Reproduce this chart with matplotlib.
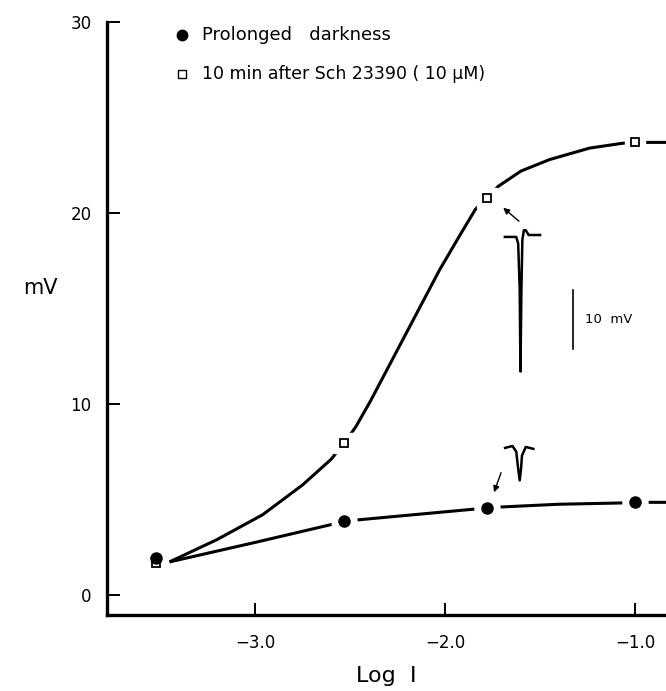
import numpy as np
import matplotlib
matplotlib.use('Agg')
import matplotlib.pyplot as plt

plt.rcParams['font.family'] = ['DejaVu Sans']

# measured points
log_i = [-3.52, -2.53, -1.78, -1.0]
dark_mv = [1.95, 3.87, 4.55, 4.85]
sch_mv = [1.65, 7.96, 20.8, 23.7]

# hand drawn curves
dark_curve_x = [-3.45, -3.0, -2.61, -2.53, -2.46, -2.2, -1.84, -1.78, -1.72,
                -1.4, -1.06, -1.0, -0.8]
dark_curve_y = [1.73, 2.75, 3.66, 3.87, 3.93, 4.17, 4.5, 4.55, 4.6,
                4.75, 4.82, 4.85, 4.85]
sch_curve_x = [-3.45, -3.2, -2.96, -2.75, -2.6, -2.53, -2.47, -2.39, -2.21,
               -2.03, -1.93, -1.84, -1.78, -1.72, -1.6, -1.45, -1.24, -1.07,
               -1.0, -0.8]
sch_curve_y = [1.73, 2.9, 4.2, 5.76, 7.1, 7.96, 8.8, 10.2, 13.6,
               17.0, 18.7, 20.2, 20.8, 21.4, 22.2, 22.8, 23.4, 23.65,
               23.7, 23.7]

# inset response traces
trace_big_x = [-1.685, -1.625, -1.615, -1.607, -1.603, -1.598, -1.593,
               -1.585, -1.575, -1.56, -1.50]
trace_big_y = [18.75, 18.75, 18.4, 16.0, 11.7, 16.0, 18.6,
               19.1, 19.1, 18.85, 18.85]
trace_small_x = [-1.684, -1.645, -1.625, -1.615, -1.607, -1.600, -1.595,
                 -1.575, -1.535]
trace_small_y = [7.7, 7.8, 7.5, 6.6, 6.0, 6.6, 7.3, 7.75, 7.65]

fig = plt.figure(figsize=(6.66, 6.91), dpi=100)
ax = fig.add_axes([0.1607, 0.11, 0.8393, 0.858])

kw = {'color': 'black', 'lw': 2.2, 'solid_capstyle': 'butt', 'zorder': 2}
ax.plot(dark_curve_x, dark_curve_y, **kw)
ax.plot(sch_curve_x, sch_curve_y, **kw)

# white halos give the gaps around the symbols
ax.plot(log_i[1:], dark_mv[1:], 'o', ms=18, color='white', zorder=3)
ax.plot(log_i[1:], sch_mv[1:], 's', ms=15, color='white', zorder=3)
ax.plot(log_i, dark_mv, 'o', ms=8, color='black', zorder=5)
ax.plot(log_i, sch_mv, 's', ms=6, mfc='white', mec='black', mew=1.3, zorder=4)

# response insets
ax.plot(trace_big_x, trace_big_y, color='black', lw=1.8, zorder=4)
ax.plot(trace_small_x, trace_small_y, color='black', lw=1.8, zorder=4)
ax.plot([-1.326, -1.326], [12.88, 15.97], color='black', lw=1.2)
ax.text(-1.263, 14.45, '10  mV', fontsize=9.5, va='center', ha='left')

arw = dict(arrowstyle='-|>', color='black', lw=1.0, mutation_scale=9)
ax.annotate('', xy=(-1.705, 20.37), xytext=(-1.6, 19.48), arrowprops=arw)
ax.annotate('', xy=(-1.747, 5.24), xytext=(-1.7, 6.54), arrowprops=arw)

# legend
ax.plot([0.134], [0.978], 'o', ms=7.5, color='black', transform=ax.transAxes,
        clip_on=False)
ax.plot([0.134], [0.913], 's', ms=6, mfc='white', mec='black', mew=1.0,
        transform=ax.transAxes, clip_on=False)
ax.text(0.170, 0.978, 'Prolonged   darkness', transform=ax.transAxes,
        fontsize=13, va='center')
ax.text(0.170, 0.913, '10 min after Sch 23390 ( 10 \u00b5M)',
        transform=ax.transAxes, fontsize=12.5, va='center')

ax.set_xlim(-3.779, -0.837)
ax.set_ylim(-1.05, 30)
ax.set_xticks([-3.0, -2.0, -1.0])
ax.set_xticklabels(['\u22123.0', '\u22122.0', '\u22121.0'])
ax.set_yticks([0, 10, 20, 30])
ax.tick_params(direction='in', length=9, width=1.4, labelsize=12, pad=11)
ax.tick_params(axis='x', pad=14)
for s in ['top', 'right']:
    ax.spines[s].set_visible(False)
for s in ['left', 'bottom']:
    ax.spines[s].set_linewidth(2.4)

ax.set_xlabel('Log  I', fontsize=16, labelpad=10)
ax.set_ylabel('mV', fontsize=15, rotation=0)
ax.yaxis.set_label_coords(-0.12, 0.535)

plt.savefig('out.png', dpi=100)
